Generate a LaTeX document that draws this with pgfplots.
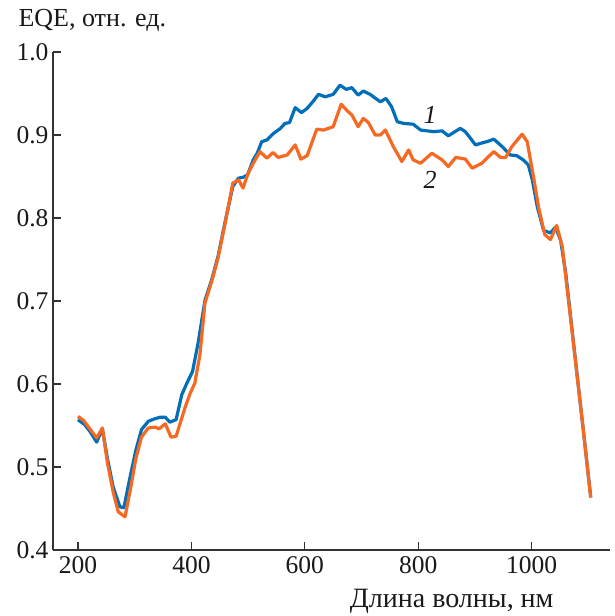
\documentclass[border=0pt]{standalone}
\usepackage{pgfplots}
\pgfplotsset{compat=1.18}
\usepackage{fontspec}
\setmainfont{Liberation Serif}
\definecolor{cblue}{RGB}{0,110,184}
\definecolor{corange}{RGB}{245,105,35}
\definecolor{axgray}{RGB}{50,50,50}

\pgfplotstableread{
x y
200 0.557
212 0.551
222 0.542
233 0.530
243 0.546
252 0.510
262 0.476
274 0.452
281 0.451
291 0.485
302 0.520
312 0.545
324 0.555
335 0.558
345 0.560
354 0.560
362 0.554
373 0.557
383 0.587
392 0.601
402 0.615
412 0.650
424 0.701
436 0.726
447 0.754
459 0.794
473 0.838
483 0.848
491 0.849
499 0.852
509 0.870
516 0.878
524 0.892
533 0.894
545 0.902
557 0.908
565 0.914
573 0.915
583 0.933
594 0.927
604 0.932
614 0.940
624 0.949
636 0.946
650 0.949
662 0.960
673 0.955
683 0.957
694 0.948
703 0.953
715 0.949
733 0.940
743 0.944
753 0.934
763 0.916
774 0.914
791 0.913
804 0.906
827 0.904
842 0.905
853 0.899
874 0.908
883 0.904
901 0.888
910 0.890
921 0.892
933 0.895
948 0.886
962 0.876
974 0.875
985 0.870
994 0.864
1001 0.846
1010 0.813
1021 0.785
1033 0.782
1042 0.789
1051 0.773
1060 0.733
1070 0.672
1080 0.611
1090 0.550
1104 0.464
}\curveone

\pgfplotstableread{
x y
200 0.561
210 0.556
222 0.545
233 0.535
243 0.547
252 0.505
262 0.470
271 0.446
283 0.440
293 0.475
302 0.510
312 0.536
324 0.547
336 0.548
343 0.546
354 0.552
364 0.536
373 0.537
389 0.572
398 0.589
406 0.601
415 0.635
424 0.698
436 0.724
447 0.752
459 0.792
473 0.842
483 0.846
491 0.836
499 0.852
509 0.866
521 0.880
533 0.872
544 0.879
553 0.873
569 0.876
583 0.888
593 0.871
604 0.875
621 0.907
633 0.906
650 0.910
664 0.937
675 0.929
683 0.924
694 0.910
703 0.920
712 0.915
724 0.900
733 0.900
742 0.906
756 0.886
771 0.868
783 0.882
791 0.870
804 0.866
824 0.878
842 0.870
853 0.862
866 0.873
883 0.871
895 0.860
912 0.866
933 0.880
945 0.873
954 0.873
965 0.886
983 0.901
992 0.892
1003 0.850
1012 0.813
1023 0.780
1033 0.774
1044 0.791
1054 0.765
1070 0.670
1080 0.610
1090 0.550
1104 0.463
}\curvetwo

\begin{document}
\begin{tikzpicture}
\useasboundingbox (-53pt,-66pt) rectangle (562pt,550pt);
\begin{axis}[
  at={(0,0)}, anchor=south west,
  scale only axis,
  width=557pt, height=498pt,
  xmin=156, xmax=1138,
  ymin=0.4, ymax=1.0,
  axis x line*=bottom,
  axis y line*=left,
  axis line style={axgray, line width=1.3pt},
  xtick={200,400,600,800,1000},
  ytick={0.4,0.5,0.6,0.7,0.8,0.9,1.0},
  tick align=inside,
  major tick length=8pt,
  tick style={axgray, line width=1.3pt},
  /pgf/number format/assume math mode=true,
  x tick label style={/pgf/number format/1000 sep={}, yshift=-3pt},
  y tick label style={/pgf/number format/fixed, /pgf/number format/fixed zerofill, /pgf/number format/precision=1, xshift=-1pt},
  tick label style={font=\fontsize{25.5}{25.5}\selectfont, text=black!90},
]
\addplot[cblue, line width=3.2pt, line join=round] table[x=x, y=y] {\curveone};
\addplot[corange, line width=3.2pt, line join=round] table[x=x, y=y] {\curvetwo};
\node[font=\fontsize{26}{26}\selectfont\itshape, text=black!90] at (axis cs:821,0.924) {1};
\node[font=\fontsize{26}{26}\selectfont\itshape, text=black!90] at (axis cs:821,0.846) {2};
\end{axis}
\node[anchor=base west, font=\fontsize{26}{26}\selectfont, text=black!90] at (-38pt,523pt) {EQE, отн. ед.};
\node[anchor=base east, font=\fontsize{28}{28}\selectfont, text=black!90] at (504pt,-57pt) {Длина волны, нм};
\end{tikzpicture}
\end{document}
